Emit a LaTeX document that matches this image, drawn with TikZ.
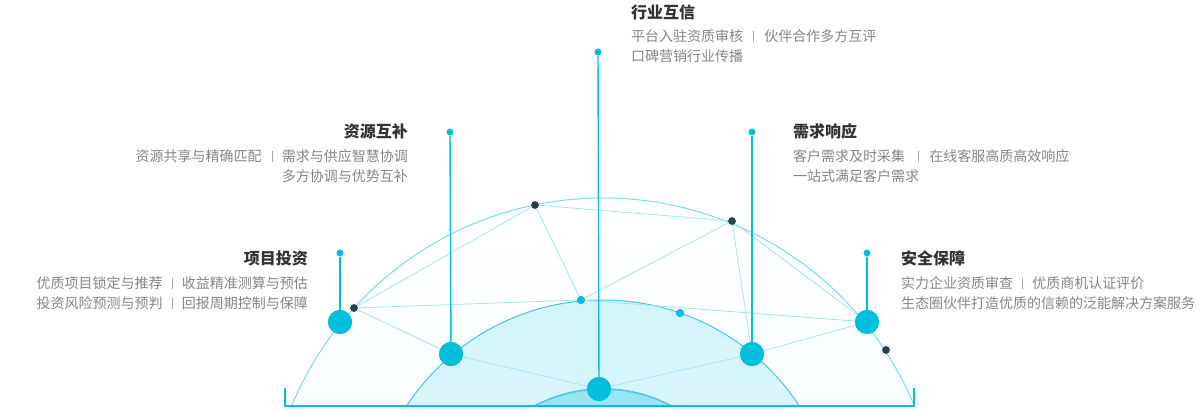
\documentclass[tikz,border=0pt]{standalone}
\usepackage{fontspec}
\setmainfont{Noto Sans CJK SC}
\definecolor{cyanmain}{HTML}{00BFDD}
\definecolor{darkdot}{HTML}{2D3E4E}
\definecolor{netline}{HTML}{A6E4F1}
\definecolor{outerarc}{HTML}{7FD9EC}
\definecolor{midarc}{HTML}{45C8E4}
\definecolor{innerarc}{HTML}{5CC6EE}
\definecolor{titlegray}{HTML}{333333}
\definecolor{bodygray}{HTML}{858585}
\definecolor{sepgray}{HTML}{A8A8A8}
\newcommand{\sepbar}[2]{\hspace{#1}\textcolor{sepgray}{\rule[-0.5pt]{1.1pt}{10.5pt}}\hspace{#2}}
\begin{document}
\begin{tikzpicture}[x=1pt,y=-1pt,
  bigdot/.style={circle,fill=cyanmain,inner sep=0pt,minimum size=24pt},
  smalldot/.style={circle,fill=cyanmain,inner sep=0pt,minimum size=7pt},
  darkpt/.style={circle,fill=darkdot,inner sep=0pt,minimum size=7.5pt},
  lightpt/.style={circle,fill=cyanmain,inner sep=0pt,minimum size=8pt},
  stem/.style={draw=cyanmain,line width=1.4pt},
  net/.style={draw=netline,line width=0.8pt},
  ttl/.style={inner sep=0pt,font=\fontsize{16pt}{18pt}\selectfont\bfseries,text=titlegray},
  body/.style={inner sep=0pt,font=\fontsize{14pt}{16pt}\selectfont,text=bodygray}]
\useasboundingbox (0,0) rectangle (1200,410);
% domes
\begin{scope}
  \clip (280,0) rectangle (920,405);
  \shade[top color=white,bottom color={cyanmain!8}] (603,535) circle (337pt);
  \draw[outerarc,line width=1pt] (603,535) circle (337pt);
  \shade[top color={cyanmain!17},bottom color={cyanmain!10}] (603,535) circle (235pt);
  \draw[midarc,line width=1pt] (603,535) circle (235pt);
  \fill[cyanmain!40] (603,535) circle (146pt);
  \draw[innerarc,line width=1.8pt] (603,535) circle (146pt);
\end{scope}
% key points
\node[bigdot] (n1) at (340,322) {};
\node[bigdot] (n2) at (451,354) {};
\node[bigdot] (n3) at (599,389) {};
\node[bigdot] (n4) at (752,354) {};
\node[bigdot] (n5) at (867,322) {};
\node[smalldot] (s1) at (340,253) {};
\node[smalldot] (s2) at (450,132) {};
\node[smalldot] (s3) at (598,52) {};
\node[smalldot] (s4) at (752,132) {};
\node[smalldot] (s5) at (867,253) {};
\node[darkpt] (d1) at (354,308) {};
\node[darkpt] (d2) at (535,205) {};
\node[darkpt] (d3) at (732,221) {};
\node[darkpt] (d4) at (886,350) {};
\node[lightpt] (l1) at (581,300) {};
\node[lightpt] (l2) at (680,313) {};
% network
\draw[net] (d1) -- (d2);
\draw[net] (d1) -- (l1);
\draw[net] (l1) -- (n5);
\draw[net] (d1) -- (n2);
\draw[net] (d2) -- (d3);
\draw[net] (d2) -- (l1);
\draw[net] (d3) -- (l1);
\draw[net] (d3) -- (n4);
\draw[net] (d3) -- (n5);
\draw[net] (n5) -- (n4);
\draw[net] (n4) -- (n3);
\draw[net] (n2) -- (n3);
% baseline
\coordinate (bl) at (285,388);
\coordinate (br) at (914,388);
\draw[draw=cyanmain,line width=1.8pt] (bl) |- (914,406) -- (br);
% stems
\draw[stem] (s1) -- (n1);
\draw[stem] (s2) -- (n2);
\draw[stem] (s3) -- (n3);
\draw[stem] (s4) -- (n4);
\draw[stem] (s5) -- (n5);
% redraw dots on top
\node[bigdot] at (n1) {};
\node[bigdot] at (n2) {};
\node[bigdot] at (n3) {};
\node[bigdot] at (n4) {};
\node[bigdot] at (n5) {};
\node[darkpt] at (d1) {};
\node[darkpt] at (d2) {};
\node[darkpt] at (d3) {};
\node[darkpt] at (d4) {};
\node[lightpt] at (l1) {};
\node[lightpt] at (l2) {};
% texts
\node[ttl,anchor=base west] (t3) at (631,18) {行业互信};
\node[body,anchor=base west] (t3a) at (631,41) {平台入驻资质审核\sepbar{10pt}{10pt}伙伴合作多方互评};
\node[body,anchor=base west] (t3b) at (631,61) {口碑营销行业传播};
\node[ttl,anchor=base east] (t2) at (408,137) {资源互补};
\node[body,anchor=base east] (t2a) at (408,161) {资源共享与精确匹配\sepbar{10pt}{9pt}需求与供应智慧协调};
\node[body,anchor=base east] (t2b) at (408,181) {多方协调与优势互补};
\node[ttl,anchor=base east] (t1) at (308,264) {项目投资};
\node[body,anchor=base east] (t1a) at (308,288) {优质项目锁定与推荐\sepbar{9pt}{9pt}收益精准测算与预估};
\node[body,anchor=base east] (t1b) at (308,308) {投资风险预测与预判\sepbar{9pt}{9pt}回报周期控制与保障};
\node[ttl,anchor=base west] (t4) at (793,137) {需求响应};
\node[body,anchor=base west] (t4a) at (793,161) {客户需求及时采集\sepbar{13pt}{10pt}在线客服高质高效响应};
\node[body,anchor=base west] (t4b) at (793,181) {一站式满足客户需求};
\node[ttl,anchor=base west] (t5) at (901,264) {安全保障};
\node[body,anchor=base west] (t5a) at (901,288) {实力企业资质审查\sepbar{9pt}{9pt}优质商机认证评价};
\node[body,anchor=base west] (t5b) at (901,308) {生态圈伙伴打造优质的信赖的泛能解决方案服务};
\end{tikzpicture}
\end{document}
